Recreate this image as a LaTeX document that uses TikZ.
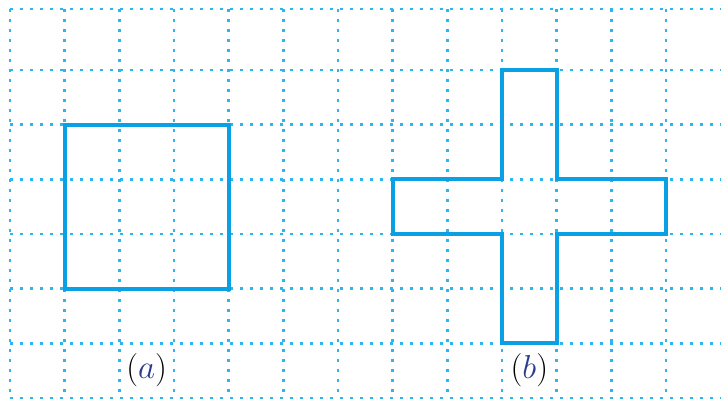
\documentclass[tikz,border=0pt]{standalone}
\usepackage{tikz}
\definecolor{gridblue}{RGB}{45,182,238}
\definecolor{shapeblue}{RGB}{10,160,228}
\definecolor{labelblue}{RGB}{40,60,140}

\begin{document}
\begin{tikzpicture} [
    x=41pt, y=-41pt,
    gridline/.style = {gridblue, line width=2pt, dash pattern=on 2.4pt off 5.1pt},
    figure/.style = {shapeblue, line width=2.8pt, line join=miter},
    caption/.style = {font=\fontsize{25}{30}\selectfont, inner sep=0pt}
]
    \useasboundingbox (-0.183,-1.28) rectangle (13.005,6.055);
    % dotted grid
    \draw[gridline] (0,-1.116) -- (13.005,-1.116);
    \foreach \y in {0,...,6}
        \draw[gridline] (0,\y) -- (13.005,\y);
    \foreach \x in {0,...,12}
        \draw[gridline] (\x,-1.116) -- (\x,6);
    % (a) square
    \draw[figure] (1,1) rectangle (4,4);
    % (b) cross
    \draw[figure] (9,0) -- (10,0) -- (10,2) -- (12,2) -- (12,3) -- (10,3)
        -- (10,5) -- (9,5) -- (9,3) -- (7,3) -- (7,2) -- (9,2) -- cycle;
    \node[caption] (capA) at (2.5,5.5) {(\textcolor{labelblue}{$a$})};
    \node[caption] (capB) at (9.5,5.5) {(\textcolor{labelblue}{$b$})};
\end{tikzpicture}
\end{document}
